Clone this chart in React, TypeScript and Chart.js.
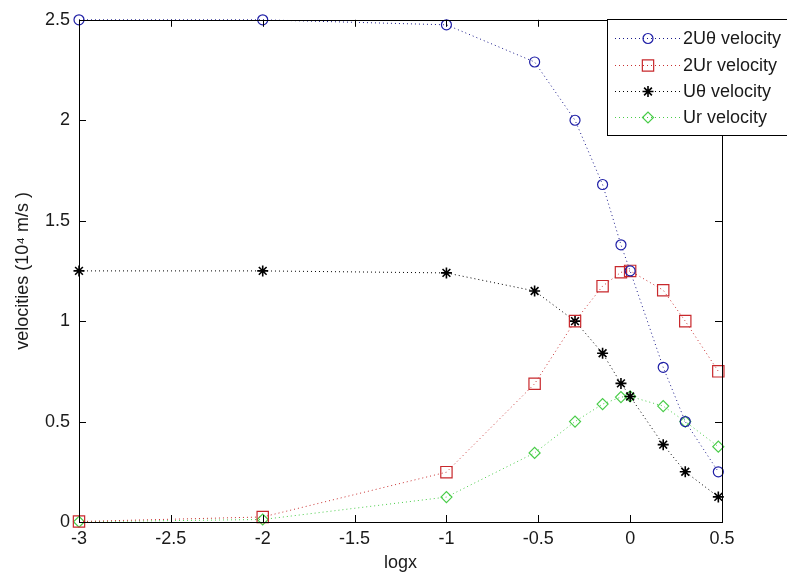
import React, { useEffect, useRef } from 'react';
import { Chart, registerables } from 'chart.js';
import { drawPoint } from 'chart.js/helpers';

Chart.register(...registerables);

// logx positions of the samples
const logx = [-3, -2, -1, -0.52, -0.3, -0.15, -0.05, 0, 0.18, 0.3, 0.48];
// series values (10^4 m/s)
const u2Theta = [2.5, 2.5, 2.475, 2.29, 2.0, 1.68, 1.38, 1.25, 0.77, 0.5, 0.25];
const u2R = [0.0025, 0.025, 0.248, 0.688, 1.0, 1.174, 1.243, 1.25, 1.154, 1.0, 0.75];
const uTheta = [1.25, 1.25, 1.24, 1.15, 1.0, 0.84, 0.69, 0.625, 0.385, 0.25, 0.125];
const uR = [0.00125, 0.0125, 0.124, 0.344, 0.5, 0.587, 0.622, 0.625, 0.577, 0.5, 0.375];

const seriesLabels = ['2Uθ velocity', '2Ur velocity', 'Uθ velocity', 'Ur velocity'];
const xTicks = [-3, -2.5, -2, -1.5, -1, -0.5, 0, 0.5];
const yTicks = [0, 0.5, 1, 1.5, 2, 2.5];

const FONT = "'Liberation Sans', Arial, sans-serif";
const TEXT = '#1a1a1a';

const axesPlugin = {
  id: 'matlabAxes',
  afterDatasetsDraw(chart: any) {
    const { ctx, chartArea: a, scales } = chart;
    const xs = scales.x;
    const ys = scales.y;
    const L = 7;
    ctx.save();
    ctx.strokeStyle = '#000';
    ctx.lineWidth = 1;
    ctx.setLineDash([]);
    ctx.beginPath();
    xs.ticks.forEach((t: any) => {
      const px = Math.round(xs.getPixelForValue(t.value)) + 0.5;
      ctx.moveTo(px, a.bottom);
      ctx.lineTo(px, a.bottom - L);
      ctx.moveTo(px, a.top);
      ctx.lineTo(px, a.top + L);
    });
    ys.ticks.forEach((t: any) => {
      const py = Math.round(ys.getPixelForValue(t.value)) + 0.5;
      ctx.moveTo(a.left, py);
      ctx.lineTo(a.left + L, py);
      ctx.moveTo(a.right, py);
      ctx.lineTo(a.right - L, py);
    });
    ctx.stroke();
    ctx.strokeRect(Math.round(a.left) + 0.5, Math.round(a.top) + 0.5, Math.round(a.right - a.left), Math.round(a.bottom - a.top));
    ctx.restore();
  },
};

const legendPlugin = {
  id: 'matlabLegend',
  afterDraw(chart: any) {
    const { ctx } = chart;
    const bx = 607, by = 19, bw = 200, bh = 116;
    const rowY = [38, 65, 91, 117];
    ctx.save();
    ctx.fillStyle = '#fff';
    ctx.fillRect(bx, by, bw, bh);
    ctx.strokeStyle = '#000';
    ctx.lineWidth = 1;
    ctx.setLineDash([]);
    ctx.strokeRect(bx + 0.5, by + 0.5, bw, bh);
    chart.data.datasets.forEach((ds: any, i: number) => {
      const y = rowY[i] + 0.5;
      ctx.save();
      ctx.strokeStyle = ds.borderColor;
      ctx.lineWidth = 1;
      ctx.setLineDash(ds.borderDash);
      ctx.beginPath();
      ctx.moveTo(615, y);
      ctx.lineTo(680, y);
      ctx.stroke();
      ctx.setLineDash([]);
      ctx.strokeStyle = ds.pointBorderColor;
      ctx.fillStyle = 'rgba(0,0,0,0)';
      ctx.lineWidth = ds.pointBorderWidth;
      drawPoint(ctx, { pointStyle: ds.pointStyle, rotation: 0, radius: ds.pointRadius, borderWidth: ds.pointBorderWidth }, 648, y);
      ctx.restore();
      ctx.fillStyle = TEXT;
      ctx.font = `18px ${FONT}`;
      ctx.textAlign = 'left';
      ctx.textBaseline = 'middle';
      ctx.fillText(ds.label, 683, y + 1);
    });
    ctx.restore();
  },
};

function makeSeries(label: string, vals: number[], color: string, lineColor: string, style: string, radius: number, bw: number) {
  return {
    label,
    data: logx.map((x, i) => ({ x, y: vals[i] })),
    borderColor: lineColor,
    borderWidth: 1,
    borderDash: [1, 3],
    pointStyle: style,
    pointRadius: radius,
    pointHoverRadius: radius,
    pointBorderColor: color,
    pointBackgroundColor: 'rgba(0,0,0,0)',
    pointBorderWidth: bw,
    tension: 0,
    fill: false,
    clip: false,
  };
}

export default function App() {
  const ref = useRef<HTMLCanvasElement | null>(null);
  useEffect(() => {
    document.body.style.margin = '0';
    const canvas = ref.current;
    if (!canvas) return;
    const chart = new Chart(canvas, {
      type: 'line',
      data: {
        datasets: [
          makeSeries(seriesLabels[0], u2Theta, '#1e1ea6', '#1a1a8a', 'circle', 5, 1.2),
          makeSeries(seriesLabels[1], u2R, '#c8282c', '#c83030', 'rect', 8, 1.2),
          makeSeries(seriesLabels[2], uTheta, '#000000', '#000000', 'star', 5.5, 1.6),
          makeSeries(seriesLabels[3], uR, '#48cc48', '#48cc48', 'rectRot', 5.5, 1.2),
        ] as any,
      },
      options: {
        responsive: false,
        animation: false,
        maintainAspectRatio: false,
        layout: { padding: { top: 18, right: 65, left: 0, bottom: 0 } },
        plugins: { legend: { display: false }, tooltip: { enabled: false } },
        events: [],
        scales: {
          x: {
            type: 'linear',
            min: -3,
            max: 0.5,
            afterBuildTicks: (s: any) => {
              s.ticks = xTicks.map((v) => ({ value: v }));
            },
            afterFit: (s: any) => {
              s.height = 56;
            },
            grid: { display: false, drawTicks: false },
            border: { display: false },
            ticks: {
              font: { size: 18, family: FONT },
              color: TEXT,
              padding: 6,
              maxRotation: 0,
              autoSkip: false,
              callback: (v: any) => String(v),
            },
            title: {
              display: true,
              text: 'logx',
              font: { size: 18, family: FONT },
              color: TEXT,
              padding: { top: 0, bottom: 4 },
            },
          },
          y: {
            type: 'linear',
            min: 0,
            max: 2.5,
            afterBuildTicks: (s: any) => {
              s.ticks = yTicks.map((v) => ({ value: v }));
            },
            afterFit: (s: any) => {
              s.width = 79;
            },
            grid: { display: false, drawTicks: false },
            border: { display: false },
            ticks: {
              font: { size: 18, family: FONT },
              color: TEXT,
              padding: 9,
              autoSkip: false,
              callback: (v: any) => String(v),
            },
            title: {
              display: true,
              text: 'velocities (10⁴ m/s )',
              font: { size: 18, family: FONT },
              color: TEXT,
              padding: { top: 12, bottom: 0 },
            },
          },
        },
      } as any,
      plugins: [axesPlugin, legendPlugin],
    });
    return () => chart.destroy();
  }, []);
  return (
    <div style={{ width: 787, height: 578, position: 'relative', background: '#fff' }}>
      <canvas ref={ref} width={787} height={578} style={{ display: 'block' }} />
    </div>
  );
}
